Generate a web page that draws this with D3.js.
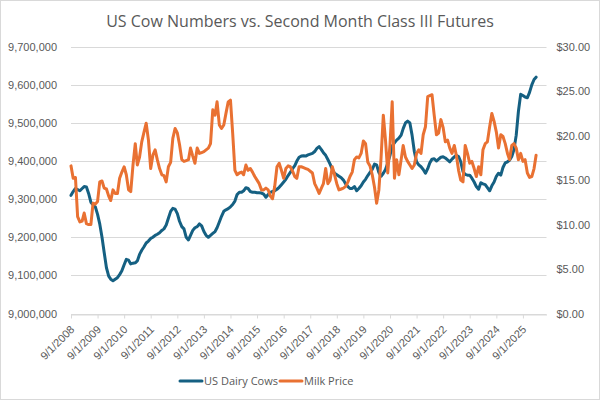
<!DOCTYPE html>
<html>
<head>
<meta charset="utf-8">
<script src="https://cdn.jsdelivr.net/npm/d3@7"></script>
<style>
  html, body { margin: 0; padding: 0; background: #fff; }
  svg { display: block; font-family: "Open Sans", "Noto Sans", sans-serif; }
  .grid line { stroke: #d9d9d9; stroke-width: 1; }
  .axis text { fill: #595959; font-size: 11px; }
  .title { fill: #595959; font-size: 16px; }
  .legend text { fill: #595959; font-size: 11px; }
</style>
</head>
<body>
<div id="chart"></div>
<script>
"use strict";

// Monthly series, starting 9/1/2008
var startMonth = "9/1/2008";

var cows = [
  9310000, 9320000, 9328000, 9325000, 9322000, 9328000, 9333000, 9332000, 9315000, 9292000, 9285000, 9280000,
  9260000, 9235000, 9200000, 9160000, 9120000, 9098000, 9090000, 9086000, 9090000, 9094000, 9102000, 9112000,
  9128000, 9142000, 9140000, 9130000, 9132000, 9133000, 9138000, 9155000, 9166000, 9175000, 9185000, 9190000,
  9197000, 9200000, 9205000, 9208000, 9212000, 9218000, 9222000, 9232000, 9250000, 9268000, 9276000, 9274000,
  9262000, 9242000, 9228000, 9222000, 9200000, 9193000, 9205000, 9218000, 9225000, 9228000, 9235000, 9230000,
  9215000, 9205000, 9200000, 9205000, 9210000, 9215000, 9225000, 9240000, 9255000, 9268000, 9272000, 9275000,
  9280000, 9286000, 9295000, 9312000, 9318000, 9318000, 9322000, 9330000, 9328000, 9320000, 9318000, 9318000,
  9317000, 9317000, 9316000, 9313000, 9305000, 9312000, 9318000, 9320000, 9322000, 9326000, 9331000, 9338000,
  9345000, 9352000, 9362000, 9370000, 9380000, 9388000, 9400000, 9410000, 9413000, 9414000, 9413000, 9416000,
  9418000, 9420000, 9425000, 9433000, 9438000, 9430000, 9422000, 9415000, 9404000, 9392000, 9378000, 9368000,
  9364000, 9360000, 9356000, 9350000, 9340000, 9333000, 9328000, 9328000, 9333000, 9322000, 9328000, 9335000,
  9345000, 9352000, 9362000, 9370000, 9378000, 9392000, 9390000, 9370000, 9360000, 9368000, 9378000, 9395000,
  9415000, 9440000, 9448000, 9455000, 9460000, 9468000, 9485000, 9500000, 9505000, 9500000, 9468000, 9425000,
  9398000, 9390000, 9385000, 9378000, 9368000, 9380000, 9395000, 9405000, 9406000, 9400000, 9405000, 9410000,
  9411000, 9408000, 9403000, 9398000, 9405000, 9411000, 9415000, 9412000, 9398000, 9372000, 9365000, 9363000,
  9363000, 9355000, 9345000, 9333000, 9326000, 9343000, 9340000, 9338000, 9330000, 9322000, 9335000, 9345000,
  9360000, 9368000, 9363000, 9383000, 9395000, 9398000, 9402000, 9412000, 9430000, 9468000, 9530000, 9575000,
  9572000, 9568000, 9566000, 9580000, 9600000, 9614000, 9620000
];

var milkPrice = [
  16.6, 15.2, 15.3, 10.9, 10.3, 10.4, 11.3, 10.1, 10.0, 10.0, 12.4, 12.3,
  12.6, 14.8, 14.9, 14.1, 14.0, 13.2, 12.7, 13.9, 13.5, 13.5, 15.2, 15.9,
  16.5, 15.6, 13.9, 13.7, 16.7, 19.1, 16.7, 17.6, 19.3, 20.4, 21.4, 19.5,
  16.3, 17.8, 18.4, 17.3, 16.3, 15.6, 15.5, 14.8, 16.5, 17.0, 19.7, 20.8,
  20.3, 19.0, 17.3, 17.1, 17.2, 17.3, 18.6, 17.7, 16.9, 18.6, 18.0, 18.1,
  18.2, 18.4, 18.6, 19.1, 22.9, 22.3, 23.8, 21.2, 20.8, 21.2, 22.5, 23.8,
  24.0, 20.3, 16.1, 15.6, 15.8, 15.9, 15.6, 16.7, 16.1, 16.3, 15.9, 15.4,
  15.0, 14.6, 13.9, 13.9, 14.1, 13.9, 13.2, 12.9, 14.3, 16.5, 16.9, 16.1,
  15.2, 16.3, 16.6, 16.5, 16.0, 15.4, 15.2, 16.5, 16.5, 16.4, 16.3, 16.2,
  16.0, 15.8, 14.6, 14.1, 13.5, 14.1, 14.6, 16.3, 14.6, 15.0, 16.5, 15.6,
  14.6, 13.9, 14.0, 14.1, 14.3, 14.8, 15.4, 15.9, 17.3, 17.6, 17.5, 18.0,
  19.4, 19.1, 17.0, 16.6, 15.6, 14.2, 12.4, 13.9, 17.5, 22.3, 19.5, 15.8,
  19.0, 23.8, 15.2, 17.3, 15.6, 17.3, 18.9, 17.6, 17.1, 16.7, 16.3, 16.7,
  18.0, 18.4, 18.0, 20.1, 21.0, 24.4, 24.5, 24.6, 22.3, 20.1, 20.3, 21.8,
  20.9, 19.3, 19.5, 18.6, 18.0, 18.9, 17.8, 16.1, 15.0, 14.8, 18.9, 18.0,
  16.9, 17.1, 16.3, 15.4, 16.5, 15.6, 18.4, 19.1, 19.3, 21.0, 22.5, 21.6,
  20.4, 18.6, 20.1, 19.9, 19.1, 18.0, 17.3, 18.9, 19.1, 18.6, 17.3, 18.0,
  17.1, 17.3, 15.8, 15.3, 15.4, 16.3, 17.8
];

var xTickLabels = [
  "9/1/2008", "9/1/2009", "9/1/2010", "9/1/2011", "9/1/2012", "9/1/2013",
  "9/1/2014", "9/1/2015", "9/1/2016", "9/1/2017", "9/1/2018", "9/1/2019",
  "9/1/2020", "9/1/2021", "9/1/2022", "9/1/2023", "9/1/2024", "9/1/2025"
];
var cowTicks = [9000000, 9100000, 9200000, 9300000, 9400000, 9500000, 9600000, 9700000];
var priceTicks = [0, 5, 10, 15, 20, 25, 30];

var seriesNames = ["US Dairy Cows", "Milk Price"];
var seriesColors = ["#156082", "#e97132"];

var width = 600, height = 400;
var margin = {top: 46.7, right: 53.5, bottom: 86.5, left: 71};

var parseDate = d3.timeParse("%-m/%-d/%Y");
var first = parseDate(startMonth);
var months = cows.map(function(d, i) { return d3.timeMonth.offset(first, i); });
var tickDates = xTickLabels.map(parseDate);

var x = d3.scaleTime()
  .domain([first, new Date(2026, 6, 22)])
  .range([margin.left, width - margin.right]);
var yLeft = d3.scaleLinear().domain([9000000, 9700000]).range([height - margin.bottom, margin.top]);
var yRight = d3.scaleLinear().domain([0, 30]).range([height - margin.bottom, margin.top]);

var svg = d3.select("#chart").append("svg")
  .attr("width", width)
  .attr("height", height);

// chart border
svg.append("rect")
  .attr("x", 0.5).attr("y", 0.5)
  .attr("width", width - 1).attr("height", height - 1)
  .attr("fill", "#fff")
  .attr("stroke", "#d9d9d9");

svg.append("text")
  .attr("class", "title")
  .attr("x", width / 2)
  .attr("y", 27)
  .attr("text-anchor", "middle")
  .text("US Cow Numbers vs. Second Month Class III Futures");

// gridlines
svg.append("g")
  .attr("class", "grid")
  .selectAll("line")
  .data(cowTicks)
  .enter().append("line")
  .attr("x1", margin.left)
  .attr("x2", width - margin.right)
  .attr("y1", function(d) { return Math.round(yLeft(d)) + 0.5; })
  .attr("y2", function(d) { return Math.round(yLeft(d)) + 0.5; });

// left axis
var fmtCows = d3.format(",");
svg.append("g")
  .attr("class", "axis")
  .attr("transform", "translate(" + margin.left + ",0)")
  .call(d3.axisLeft(yLeft).tickValues(cowTicks).tickFormat(fmtCows).tickSize(0).tickPadding(14))
  .call(function(g) { g.select(".domain").remove(); })
  .selectAll("text").attr("font-family", null).attr("font-size", null);

// right axis
var fmtPrice = d3.format("$.2f");
svg.append("g")
  .attr("class", "axis")
  .attr("transform", "translate(" + (width - margin.right) + ",0)")
  .call(d3.axisRight(yRight).tickValues(priceTicks).tickFormat(fmtPrice).tickSize(0).tickPadding(10))
  .call(function(g) { g.select(".domain").remove(); })
  .selectAll("text").attr("font-family", null).attr("font-size", null);

// bottom axis
var xAxis = svg.append("g")
  .attr("class", "axis")
  .attr("transform", "translate(0," + (Math.round(yLeft(9000000)) + 0.5) + ")")
  .call(d3.axisBottom(x).tickValues(tickDates).tickFormat(function(d, i) { return xTickLabels[i]; })
    .tickSizeInner(4).tickSizeOuter(0).tickPadding(3));
xAxis.select(".domain").attr("stroke", "#d9d9d9");
xAxis.selectAll(".tick line").attr("stroke", "#d9d9d9");
xAxis.selectAll("text")
  .attr("font-family", null).attr("font-size", null)
  .attr("text-anchor", "end")
  .attr("dy", "0.35em")
  .attr("transform", "translate(-4,8) rotate(-45)");

// lines
var cowLine = d3.line()
  .x(function(d, i) { return x(months[i]); })
  .y(function(d) { return yLeft(d); });
var priceLine = d3.line()
  .x(function(d, i) { return x(months[i]); })
  .y(function(d) { return yRight(d); });

svg.append("path")
  .datum(cows)
  .attr("fill", "none")
  .attr("stroke", seriesColors[0])
  .attr("stroke-width", 3)
  .attr("stroke-linejoin", "round")
  .attr("stroke-linecap", "round")
  .attr("d", cowLine);

svg.append("path")
  .datum(milkPrice)
  .attr("fill", "none")
  .attr("stroke", seriesColors[1])
  .attr("stroke-width", 3)
  .attr("stroke-linejoin", "round")
  .attr("stroke-linecap", "round")
  .attr("d", priceLine);

// legend
var legendX = [180, 280];
var legend = svg.append("g").attr("class", "legend");
var item = legend.selectAll("g")
  .data(seriesNames)
  .enter().append("g")
  .attr("transform", function(d, i) { return "translate(" + legendX[i] + ",381)"; });
item.append("line")
  .attr("x1", 0).attr("x2", 22)
  .attr("stroke", function(d, i) { return seriesColors[i]; })
  .attr("stroke-width", 3)
  .attr("stroke-linecap", "round");
item.append("text")
  .attr("x", 24)
  .attr("dy", "0.35em")
  .text(function(d) { return d; });
</script>
</body>
</html>
